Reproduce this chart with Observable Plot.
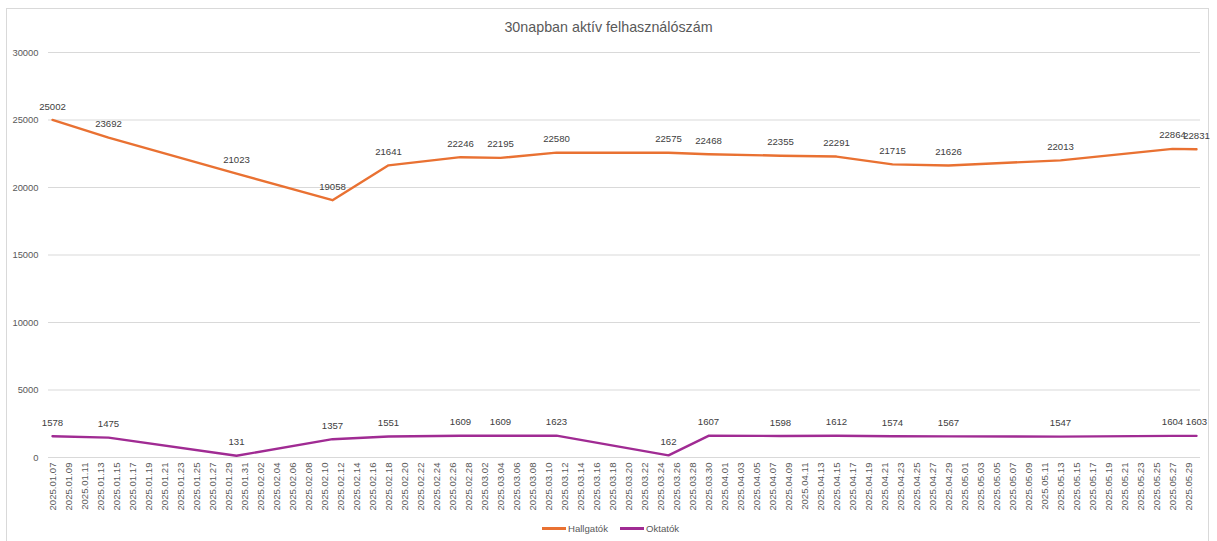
<!DOCTYPE html>
<html>
<head>
<meta charset="utf-8">
<script src="https://cdn.jsdelivr.net/npm/d3@7"></script>
<script src="https://cdn.jsdelivr.net/npm/@observablehq/plot@0.6"></script>
<style>
  html, body { margin: 0; padding: 0; background: #fff; }
  body { width: 1217px; height: 541px; position: relative; overflow: hidden; font-family: "Liberation Sans", Arial, sans-serif; }
  #frame { position: absolute; left: 6px; top: 8px; width: 1203px; height: 540px; border: 1px solid #d9d9d9; box-sizing: border-box; }
  #title { position: absolute; left: 0; width: 1217px; top: 19px; text-align: center; font-size: 14.3px; color: #595959; }
  #chart { position: absolute; left: 0; top: 0; }
  #legend { position: absolute; left: 0; width: 1217px; top: 523px; display: flex; justify-content: center; gap: 12px; font-size: 9.6px; color: #595959; padding-left: 2px; }
  .item { display: flex; align-items: center; }
  .sw { display: inline-block; width: 24px; height: 2.5px; margin-right: 2px; }
</style>
</head>
<body>
<div id="frame"></div>
<div id="chart"></div>
<div id="title">30napban aktív felhasználószám</div>
<div id="legend"></div>
<script>
const dates = ["2025-01-07","2025-01-14","2025-01-30","2025-02-11","2025-02-18","2025-02-27","2025-03-04","2025-03-11","2025-03-25","2025-03-30","2025-04-08","2025-04-15","2025-04-22","2025-04-29","2025-05-13","2025-05-27","2025-05-30"];
const hallgatok = [25002, 23692, 21023, 19058, 21641, 22246, 22195, 22580, 22575, 22468, 22355, 22291, 21715, 21626, 22013, 22864, 22831];
const oktatok = [1578, 1475, 131, 1357, 1551, 1609, 1609, 1623, 162, 1607, 1598, 1612, 1574, 1567, 1547, 1604, 1603];
const seriesNames = ["Hallgatók", "Oktatók"];
const seriesColors = ["#E97132", "#A02B93"];
const yTicks = [0, 5000, 10000, 15000, 20000, 25000, 30000];
const xTickFirst = "2025-01-07";
const xTickLast = "2025-05-29";
const xTickStepDays = 2;

const parse = d3.utcParse("%Y-%m-%d");
const data = [];
dates.forEach((d, i) => {
  data.push({date: parse(d), value: hallgatok[i], series: seriesNames[0]});
  data.push({date: parse(d), value: oktatok[i], series: seriesNames[1]});
});
const first = parse(dates[0]);
const last = parse(dates[dates.length - 1]);
const xDomain = [d3.utcHour.offset(first, -12), d3.utcHour.offset(last, 12)];
const xTicks = d3.utcDay.range(parse(xTickFirst), d3.utcDay.offset(parse(xTickLast), 1), xTickStepDays);
const fmt = d3.utcFormat("%Y.%m.%d");

const chart = Plot.plot({
  width: 1217,
  height: 541,
  marginLeft: 48,
  marginRight: 17,
  marginTop: 52,
  marginBottom: 84,
  style: { fontFamily: "'Liberation Sans', Arial, sans-serif", background: "transparent", color: "#595959" },
  x: { type: "utc", domain: xDomain },
  y: { domain: [0, 30000] },
  color: { domain: seriesNames, range: seriesColors },
  marks: [
    Plot.gridY(yTicks, { stroke: "#d9d9d9", strokeOpacity: 1, strokeWidth: 1 }),
    Plot.axisY(yTicks, { tickSize: 0, tickPadding: 10, fontSize: 9.4, fill: "#595959", label: null, tickFormat: d => String(d) }),
    Plot.axisX(xTicks, { tickSize: 0, tickPadding: 5, tickRotate: -90, fontSize: 9.6, fill: "#595959", label: null, tickFormat: fmt }),
    Plot.line(data, { x: "date", y: "value", z: "series", stroke: "series", strokeWidth: 2.4, strokeLinejoin: "round", curve: "linear" }),
    Plot.text(data, { x: "date", y: "value", text: d => String(d.value), dy: -13.5, fontSize: 9.6, fill: "#404040" })
  ]
});
document.getElementById("chart").appendChild(chart);

const legend = document.getElementById("legend");
seriesNames.forEach((n, i) => {
  const it = document.createElement("div");
  it.className = "item";
  const sw = document.createElement("span");
  sw.className = "sw";
  sw.style.background = seriesColors[i];
  it.appendChild(sw);
  it.appendChild(document.createTextNode(n));
  legend.appendChild(it);
});
</script>
</body>
</html>
